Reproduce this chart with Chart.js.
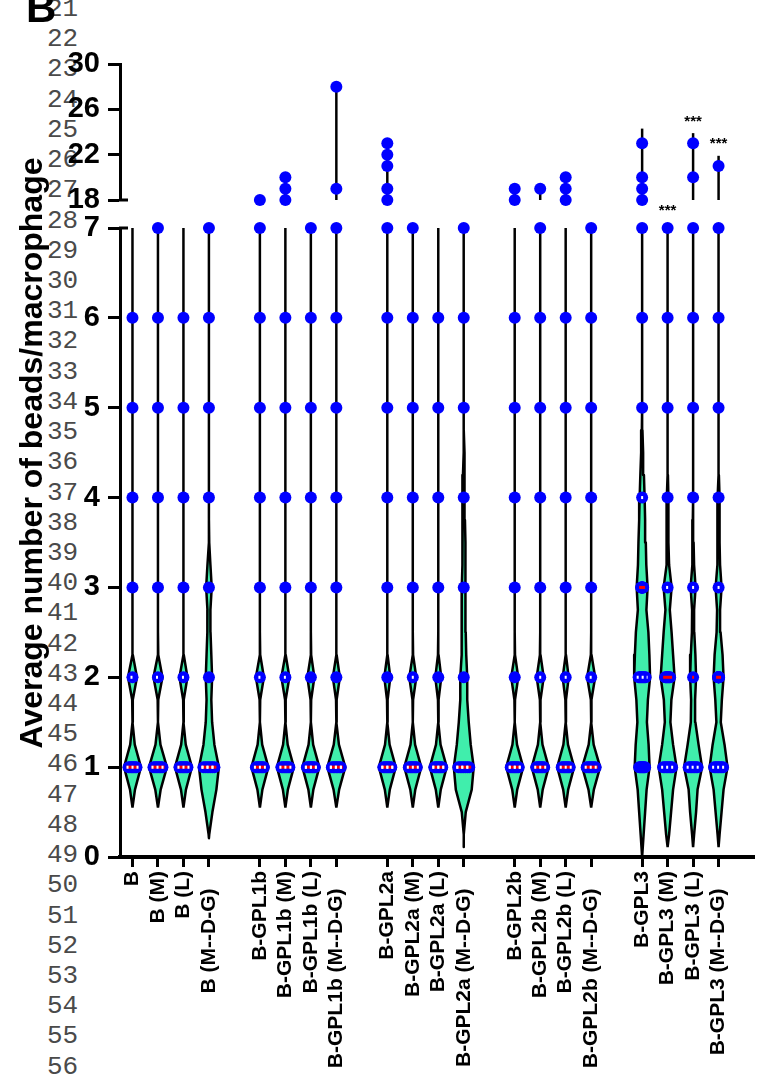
<!DOCTYPE html>
<html>
<head>
<meta charset="utf-8">
<script src="https://cdn.jsdelivr.net/npm/chart.js@4/dist/chart.umd.min.js"></script>
<style>
html,body{margin:0;padding:0;background:#fff;}
#wrap{position:relative;width:760px;height:1078px;overflow:hidden;background:#fff;}
#lineNums{position:absolute;left:47px;top:-6px;margin:0;font-family:"Liberation Mono","DejaVu Sans Mono",monospace;font-size:26px;line-height:30.22px;color:#4a4a4a;white-space:pre;}
canvas{position:absolute;left:0;top:0;}
#ytitle{position:absolute;left:31px;top:453px;width:700px;text-align:center;font-family:"Liberation Sans",Arial,sans-serif;font-weight:bold;font-size:32px;line-height:36px;white-space:nowrap;color:#000;transform:translate(-50%,-50%) rotate(-90deg);}
#panel{position:absolute;left:26px;top:-13px;font-family:"Liberation Sans",Arial,sans-serif;font-weight:bold;font-size:42px;line-height:42px;color:#000;}
</style>
</head>
<body>
<div id="wrap">
<pre id="lineNums"></pre>
<canvas id="upper" width="760" height="1078"></canvas>
<canvas id="lower" width="760" height="1078"></canvas>
<div id="ytitle">Average number of beads/macrophage</div>
<div id="panel">B</div>
</div>
<script>
// ---------------- DATA ----------------
const categories = ['B','B (M)','B (L)','B (M--D-G)',
  'B-GPL1b','B-GPL1b (M)','B-GPL1b (L)','B-GPL1b (M--D-G)',
  'B-GPL2a','B-GPL2a (M)','B-GPL2a (L)','B-GPL2a (M--D-G)',
  'B-GPL2b','B-GPL2b (M)','B-GPL2b (L)','B-GPL2b (M--D-G)',
  'B-GPL3','B-GPL3 (M)','B-GPL3 (L)','B-GPL3 (M--D-G)'];
// category slots on the x axis (one empty slot between groups)
const slotPositions = [0,1,2,3, 5,6,7,8, 10,11,12,13, 15,16,17,18, 20,21,22,23];
const lowerTicks = [0,1,2,3,4,5,6,7];
const upperTicks = [18,22,26,30];

// violin density (half-width) at these levels
const densityLevels = [0,0.25,0.5,0.75,1,1.25,1.5,1.75,2,2.25,2.5,2.75,3,3.25,3.5,3.75,4,4.25,4.5,4.75,5,7];
const violinDensity = [
  [0,0,0,2.5,8.5,2.3,0,0.3,4.5,0.3,0,0,0,0,0,0,0,0,0,0,0,0],
  [0,0,0,2.7,9,2.5,0,0.3,4.5,0.3,0,0,0,0,0,0,0,0,0,0,0,0],
  [0,0,0,2.5,8.5,2.3,0,0.3,4,0.3,0,0,0,0,0,0,0,0,0,0,0,0],
  [0,0.3,3.5,7.5,10,5.5,3.2,2.4,3.2,2.4,1.6,1.5,2.8,1.5,0.3,0,0,0,0,0,0,0],
  [0,0,0,2.5,8.5,2.3,0,0.3,4,0.3,0,0,0,0,0,0,0,0,0,0,0,0],
  [0,0,0,2.5,8.5,2.3,0,0.3,4,0.3,0,0,0,0,0,0,0,0,0,0,0,0],
  [0,0,0,2.5,8.5,2.3,0,0.3,3.5,0.3,0,0,0,0,0,0,0,0,0,0,0,0],
  [0,0,0,2.8,9,2.6,0,0.3,3.5,0.3,0,0,0,0,0,0,0,0,0,0,0,0],
  [0,0,0,2.5,8.5,2.3,0,0.3,3,0.3,0,0,0,0,0,0,0,0,0,0,0,0],
  [0,0,0,2.5,8.5,2.3,0,0.3,3.5,0.3,0,0,0,0,0,0,0,0,0,0,0,0],
  [0,0,0,2.5,8.5,2.3,0,0.3,3,0.3,0,0,0,0,0,0,0,0,0,0,0,0],
  [0,0,2,8,10,7,5,3.5,3.5,2.5,2,1.8,2,1.5,1.5,1.2,1.2,0.8,0.3,0,0,0],
  [0,0,0,2.5,8.5,2.3,0,0.3,3.5,0.3,0,0,0,0,0,0,0,0,0,0,0,0],
  [0,0,0,2.5,8.5,2.3,0,0.3,3.5,0.3,0,0,0,0,0,0,0,0,0,0,0,0],
  [0,0,0,2.5,8.5,2.3,0,0.3,3,0.3,0,0,0,0,0,0,0,0,0,0,0,0],
  [0,0,0,2.7,9,2.5,0,0.3,4,0.3,0,0,0,0,0,0,0,0,0,0,0,0],
  [0,1.5,3,4.5,7.5,6.5,4.8,5.8,8,7.3,6.3,4.3,5.5,4.2,3.7,3,2.5,1.8,1,0.3,0,0],
  [0,1.5,3.5,5.5,9,5.5,2.8,3.8,7,5.5,4,2.2,4,1.5,0.8,0.8,0.8,0.3,0,0,0,0],
  [0,1,3,4.5,9,5.5,2.3,2,3,2.3,1.2,1,2.5,1,0.5,0.3,0,0,0,0,0,0],
  [0,1,3,5,9,6,2.2,3.3,5,4,2,1.5,3,1.5,1,1,1,0.3,0,0,0,0]
];
const violinMin = [0.55,0.55,0.55,0.21, 0.55,0.55,0.55,0.55, 0.55,0.55,0.55,0.11, 0.55,0.55,0.55,0.55, 0,0.11,0.11,0.11];
const violinMax = [10,7,10,7, 18,20,7,28, 23,7,10,7, 19,19,20,7, 24.3,7,23.9,21.9];

// observed values (integers) shown as dots
const lowerPoints = [
  [1,2,3,4,5,6],[1,2,3,4,5,6,7],[1,2,3,4,5,6],[1,2,3,4,5,6,7],
  [1,2,3,4,5,6,7],[1,2,3,4,5,6],[1,2,3,4,5,6,7],[1,2,3,4,5,6,7],
  [1,2,3,4,5,6,7],[1,2,3,4,5,6,7],[1,2,3,4,5,6],[1,2,3,4,5,6,7],
  [1,2,3,4,5,6],[1,2,3,4,5,6,7],[1,2,3,4,5,6],[1,2,3,4,5,6,7],
  [1,2,3,4,5,6,7],[1,2,3,4,5,6,7],[1,2,3,4,5,6,7],[1,2,3,4,5,6,7]
];
const upperPoints = [
  [],[],[],[],
  [18],[18,19,20],[],[19,28],
  [18,19,21,22,23],[],[],[],
  [18,19],[19],[18,19,20],[],
  [18,19,20,23],[],[20,23],[21]
];
const medians   = [1,1,1,1, 1,1,1,1, 1,1,1,1, 1,1,1,1, 3,2,2,2];
const quartile1 = [1,1,1,1, 1,1,1,1, 1,1,1,1, 1,1,1,1, 2,1,1,1];
const quartile3 = [2,2,2,1, 2,2,1,1, 1,2,1,1, 1,2,2,2, 4,3,3,3];
const significance = ['','','','', '','','','', '','','','', '','','','', '','***','***','***'];

// ---------------- STYLE ----------------
const X_MIN = -0.49, X_MAX = 24.39;
const densityScale = 0.039;   // x units per density unit
const dotRadius = 6;
const GREEN = 'rgb(64,238,172)';
const BLUE = '#0000ff';
const FONT = '"Liberation Sans", Arial, Helvetica, sans-serif';
Chart.defaults.font.family = FONT;
Chart.defaults.color = '#000';

// line numbers
(function(){ const a=[]; for(let n=21;n<=56;n++) a.push(String(n)); document.getElementById('lineNums').textContent=a.join('\n'); })();

function lowerTop(i){ return Math.min(violinMax[i], 7); }
function widthAt(i, v){
  if (v <= violinMin[i] || v >= lowerTop(i)) return 0;
  const L = densityLevels, d = violinDensity[i];
  for (let k=0;k<L.length-1;k++){
    if (v>=L[k] && v<=L[k+1]){ const t=(v-L[k])/(L[k+1]-L[k]); return d[k]+(d[k+1]-d[k])*t; }
  }
  return 0;
}
function violinPolygon(i){
  const cx = slotPositions[i], lo = violinMin[i], hi = lowerTop(i);
  const right = [{x:cx,y:lo}];
  densityLevels.forEach((lv,k)=>{ if(lv>lo && lv<hi) right.push({x:cx+violinDensity[i][k]*densityScale,y:lv}); });
  right.push({x:cx,y:hi});
  const left = right.slice(1,-1).reverse().map(p=>({x:2*cx-p.x,y:p.y}));
  return right.concat(left,[{x:cx,y:lo}]);
}
function cluster(i, v){
  const s = Math.max(0, widthAt(i,v)-4.5)*densityScale;
  const offs = s>0 ? [-1,-0.66,-0.33,0,0.33,0.66,1] : [0];
  return offs.map(o=>({x:slotPositions[i]+o*s,y:v}));
}
function statLine(i, v){
  const h = Math.max(1, widthAt(i,v)-2.5)*densityScale;
  return [{x:slotPositions[i]-h,y:v},{x:slotPositions[i]+h,y:v}];
}
function labelFor(value){
  const idx = slotPositions.findIndex(s=>Math.abs(s-value)<1e-6);
  if (idx<0) return '';
  const t = categories[idx];
  return t.indexOf('M--D-G')>=0 ? t+'   ' : t;
}

const yAxisBase = {
  afterFit: s => { s.width = 120; },
  border:{display:true,color:'#000',width:3},
  grid:{drawOnChartArea:false,drawTicks:true,tickLength:12,tickWidth:3,tickColor:'#000'},
  ticks:{font:{size:29,weight:'bold',family:FONT},color:'#000',padding:8,stepSize:1}
};

function breakPlugin(valueFn){
  return { id:'brk'+Math.random().toString(36).slice(2), afterDraw(chart){
    const y = chart.scales.y, ctx = chart.ctx, px = y.getPixelForValue(valueFn(y));
    ctx.save(); ctx.strokeStyle='#000'; ctx.lineWidth=3;
    ctx.beginPath(); ctx.moveTo(chart.chartArea.left-1, px); ctx.lineTo(chart.chartArea.left+8, px); ctx.stroke();
    ctx.restore();
  }};
}
function starsPlugin(isUpper){
  return { id:'stars'+(isUpper?'U':'L'), afterDatasetsDraw(chart){
    const x = chart.scales.x, y = chart.scales.y, ctx = chart.ctx;
    ctx.save(); ctx.fillStyle='#000'; ctx.font='bold 15px '+FONT; ctx.textAlign='center'; ctx.textBaseline='alphabetic';
    significance.forEach((txt,i)=>{
      if(!txt) return;
      const upperTopVal = violinMax[i] > 18;
      if (upperTopVal !== isUpper) return;
      let topPx;
      if (isUpper){ topPx = y.getPixelForValue(violinMax[i]); }
      else { topPx = y.getPixelForValue(lowerTop(i)) - dotRadius; }
      const cy = topPx - 16;
      ctx.fillText(txt, x.getPixelForValue(slotPositions[i]), cy + 0.57*15);
    });
    ctx.restore();
  }};
}

// ---------------- LOWER CHART ----------------
const lowerDatasets = [];
categories.forEach((c,i)=>{
  lowerDatasets.push({label:c, data:violinPolygon(i), showLine:true, fill:'shape',
    backgroundColor:GREEN, borderColor:'#000', borderWidth:2.5, borderJoinStyle:'round',
    pointRadius:0, tension:0, order:3});
});
const lowerDots = [];
categories.forEach((c,i)=>{ lowerPoints[i].forEach(v=>{ lowerDots.push(...cluster(i,v)); }); });
lowerDatasets.push({label:'points', data:lowerDots, pointRadius:dotRadius, pointBackgroundColor:BLUE,
  pointBorderWidth:0, showLine:false, clip:false, order:2});
categories.forEach((c,i)=>{
  lowerDatasets.push({label:'median', data:statLine(i,medians[i]), showLine:true, borderColor:'#ff0000',
    borderWidth:3, pointRadius:0, borderCapStyle:'butt', order:1});
});
categories.forEach((c,i)=>{
  [quartile1[i], quartile3[i]].forEach(q=>{
    lowerDatasets.push({label:'quartile', data:statLine(i,q), showLine:true, borderColor:'#ffffff',
      borderWidth:3, borderDash:[2,3], pointRadius:0, borderCapStyle:'butt', order:0});
  });
});

new Chart(document.getElementById('lower'), {
  type:'scatter',
  data:{datasets:lowerDatasets},
  options:{
    responsive:false, animation:false, devicePixelRatio:1, events:[],
    layout:{padding:{top:228,left:0,right:3,bottom:0}},
    plugins:{legend:{display:false},tooltip:{enabled:false}},
    scales:{
      x:{type:'linear',min:X_MIN,max:X_MAX,
        afterBuildTicks: s => { s.ticks = slotPositions.map(v=>({value:v})); },
        afterFit: s => { s.height = 221; },
        border:{display:true,color:'#000',width:4},
        grid:{drawOnChartArea:false,drawTicks:true,tickLength:10,tickWidth:3,tickColor:'#000'},
        ticks:{autoSkip:false,maxRotation:90,minRotation:90,padding:4,color:'#000',
          font:{size:21,weight:'bold',family:FONT}, callback:(v)=>labelFor(v)}
      },
      y:Object.assign({}, yAxisBase, {min:0,max:7,
        afterBuildTicks: s => { s.ticks = lowerTicks.map(v=>({value:v})); }})
    }
  },
  plugins:[breakPlugin(s=>s.max), starsPlugin(false)]
});

// ---------------- UPPER CHART ----------------
const upperDatasets = [];
categories.forEach((c,i)=>{
  if (violinMax[i] > 18){
    upperDatasets.push({label:c, data:[{x:slotPositions[i],y:18},{x:slotPositions[i],y:violinMax[i]}],
      showLine:true, borderColor:'#000', borderWidth:2.5, pointRadius:0, clip:false, order:3});
  }
});
const upperDots = [];
categories.forEach((c,i)=>{ upperPoints[i].forEach(v=>upperDots.push({x:slotPositions[i],y:v})); });
upperDatasets.push({label:'points', data:upperDots, pointRadius:dotRadius, pointBackgroundColor:BLUE,
  pointBorderWidth:0, showLine:false, clip:false, order:2});

new Chart(document.getElementById('upper'), {
  type:'scatter',
  data:{datasets:upperDatasets},
  options:{
    responsive:false, animation:false, devicePixelRatio:1, events:[],
    layout:{padding:{top:64,left:0,right:3,bottom:878}},
    plugins:{legend:{display:false},tooltip:{enabled:false}},
    scales:{
      x:{type:'linear',min:X_MIN,max:X_MAX,display:false},
      y:Object.assign({}, yAxisBase, {min:18,max:30,
        afterBuildTicks: s => { s.ticks = upperTicks.map(v=>({value:v})); }})
    }
  },
  plugins:[breakPlugin(s=>s.min), starsPlugin(true)]
});
</script>
</body>
</html>
